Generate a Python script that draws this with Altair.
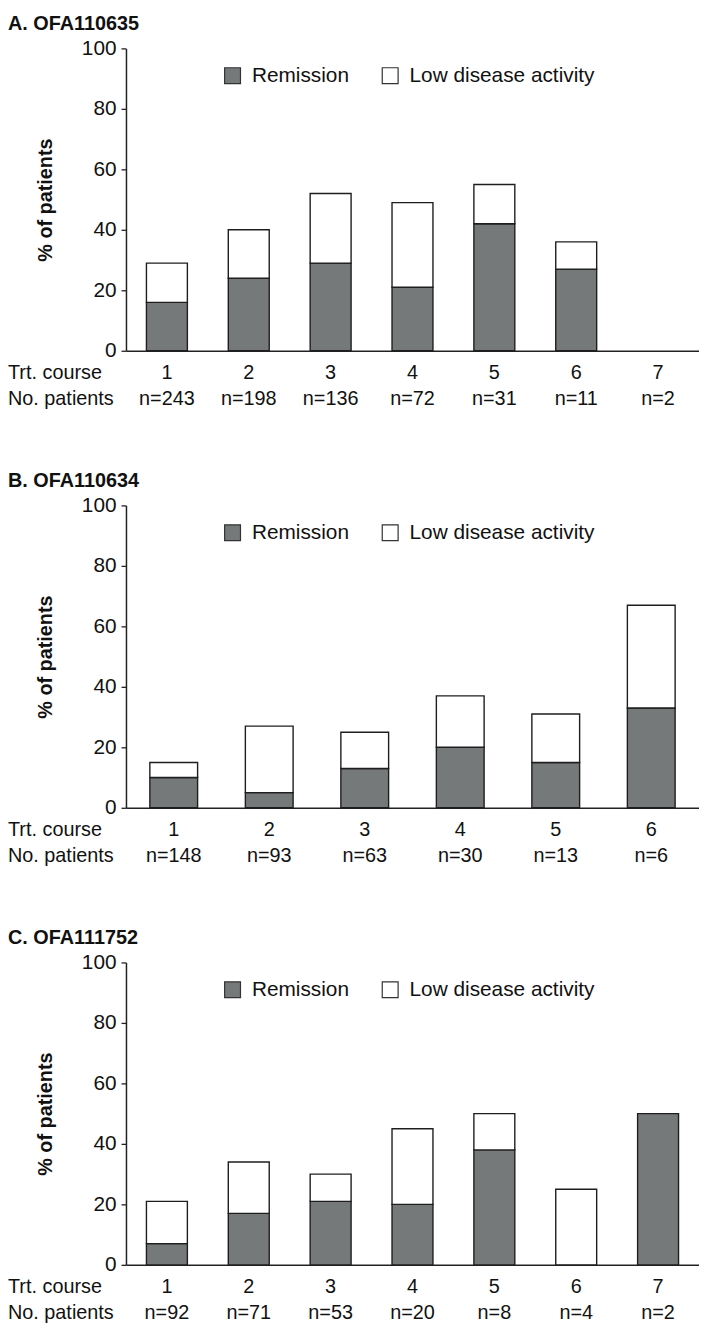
import altair as alt
import pandas as pd

FONT = "Liberation Sans"
INK = "#111111"

# ---- data ----
titles = ["A. OFA110635", "B. OFA110634", "C. OFA111752"]

courses_a = [1, 2, 3, 4, 5, 6, 7]
n_a = [243, 198, 136, 72, 31, 11, 2]
rem_a = [16, 24, 29, 21, 42, 27, 0]
lda_a = [13, 16, 23, 28, 13, 9, 0]

courses_b = [1, 2, 3, 4, 5, 6]
n_b = [148, 93, 63, 30, 13, 6]
rem_b = [10, 5, 13, 20, 15, 33]
lda_b = [5, 22, 12, 17, 16, 34]

courses_c = [1, 2, 3, 4, 5, 6, 7]
n_c = [92, 71, 53, 20, 8, 4, 2]
rem_c = [7, 17, 21, 20, 38, 0, 50]
lda_c = [14, 17, 9, 25, 12, 25, 0]

series = ["Remission", "Low disease activity"]
series_colors = ["#76797a", "#ffffff"]
row_labels = ["Trt. course", "No. patients"]
y_ticks = [0, 20, 40, 60, 80, 100]

W, H = 578, 305


def text_layer(label, y, weight="normal", size=20, baseline="middle"):
    df = pd.DataFrame({"label": [label]})
    return alt.Chart(df).mark_text(
        font=FONT, fontSize=size, fontWeight=weight, color=INK,
        align="left", baseline=baseline,
    ).encode(x=alt.value(-119), y=alt.value(y), text="label:N")


def panel(title, courses, ns, rem, lda):
    k = len(courses)
    bars = pd.DataFrame({
        "course": courses * 2,
        "series": [series[0]] * k + [series[1]] * k,
        "rank": [0] * k + [1] * k,
        "value": rem + lda,
    })
    info = pd.DataFrame({"course": courses, "n": [f"n={v}" for v in ns]})

    xenc = alt.X(
        "course:O",
        scale=alt.Scale(domain=courses, paddingInner=0.5, paddingOuter=0.25),
        axis=alt.Axis(labels=False, ticks=False, title=None,
                      domainColor="#222222", domainWidth=1.5),
    )
    yenc = alt.Y(
        "value:Q", stack="zero",
        scale=alt.Scale(domain=[0, 100], nice=False),
        axis=alt.Axis(
            values=y_ticks, grid=False, title="% of patients",
            titleFont=FONT, titleFontSize=20, titleFontWeight="bold",
            titleColor=INK, titleX=-75, titleY=H / 2, titleAlign="center",
            titleBaseline="alphabetic",
            labelFont=FONT, labelFontSize=21, labelColor=INK, labelPadding=5,
            tickSize=5, tickColor="#222222", tickWidth=1.3,
            domainColor="#222222", domainWidth=1.5,
        ),
    )

    bar = alt.Chart(bars).transform_filter(alt.datum.value > 0).mark_bar(
        stroke="#1e1e1e", strokeWidth=1.4, opacity=1
    ).encode(
        x=xenc,
        y=yenc,
        color=alt.Color(
            "series:N",
            scale=alt.Scale(domain=series, range=series_colors),
            legend=alt.Legend(
                title=None, orient="none", legendX=97, legendY=17,
                direction="horizontal", symbolType="square", symbolSize=256,
                symbolStrokeColor="#333333", symbolStrokeWidth=1.2,
                symbolOpacity=1, labelFont=FONT, labelFontSize=21,
                labelColor=INK, labelOffset=9, columnPadding=30, padding=0,
                labelLimit=0,
            ),
        ),
        order=alt.Order("rank:Q", sort="ascending"),
    )

    course_txt = alt.Chart(info).mark_text(
        font=FONT, fontSize=20, color=INK, baseline="middle"
    ).encode(x=xenc, y=alt.value(H + 22), text="course:O")
    n_txt = alt.Chart(info).mark_text(
        font=FONT, fontSize=20, color=INK, baseline="middle"
    ).encode(x=xenc, y=alt.value(H + 49), text="n:N")

    return alt.layer(
        bar, course_txt, n_txt,
        text_layer(row_labels[0], H + 22),
        text_layer(row_labels[1], H + 49),
        text_layer(title, -35, weight="bold", size=20, baseline="top"),
    ).properties(width=W, height=H)


chart = alt.vconcat(
    panel(titles[0], courses_a, n_a, rem_a, lda_a),
    panel(titles[1], courses_b, n_b, rem_b, lda_b),
    panel(titles[2], courses_c, n_c, rem_c, lda_c),
    spacing=62,
).resolve_scale(color="independent").configure_view(stroke=None).properties(
    padding={"left": 0, "top": 0, "right": 0, "bottom": 0},
    background="white",
)

chart.save("out.html", embed_options={"renderer": "svg", "actions": False})
